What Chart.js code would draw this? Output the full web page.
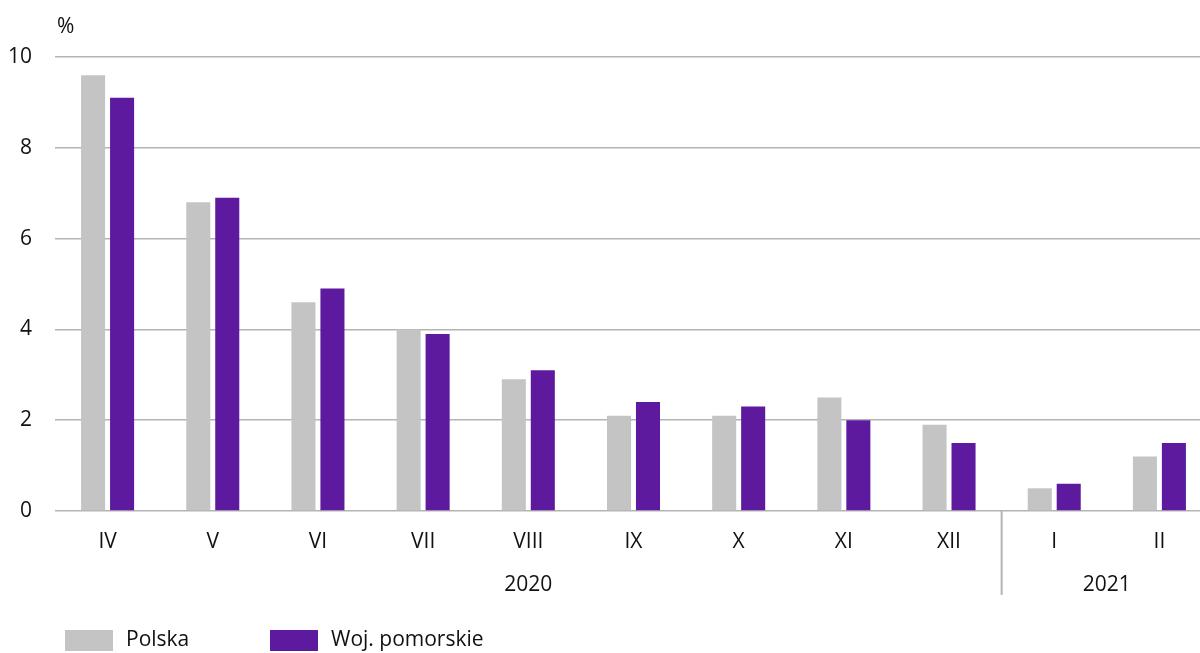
<!DOCTYPE html>
<html>
<head>
<meta charset="utf-8">
<script src="https://cdn.jsdelivr.net/npm/chart.js@4"></script>
<style>
  html, body { margin: 0; padding: 0; background: #fff; }
  /* wykres jest nieco szerszy niż okno - prawa krawędź przycięta jak w oryginale */
  #wrap { width: 1200px; height: 653px; overflow: hidden; }
</style>
</head>
<body>
<div id="wrap"><canvas id="chart" width="1212" height="653"></canvas></div>
<script>
// dane
const months = ["IV", "V", "VI", "VII", "VIII", "IX", "X", "XI", "XII", "I", "II"];
const years = [
  { label: "2020", from: 0, to: 8 },
  { label: "2021", from: 9, to: 10 }
];
const polska = [9.6, 6.8, 4.6, 4.0, 2.9, 2.1, 2.1, 2.5, 1.9, 0.5, 1.2];
const pomorskie = [9.1, 6.9, 4.9, 3.9, 3.1, 2.4, 2.3, 2.0, 1.5, 0.6, 1.5];
const seriesNames = ["Polska", "Woj. pomorskie"];
const seriesColors = ["#c3c4c3", "#5e1a9f"];

const FONT = "'Open Sans', 'Noto Sans', sans-serif";
const textColor = "#111";
const gridColor = "#b4b4b4";

// lata pod osią X + pionowa kreska oddzielająca
const yearsPlugin = {
  id: "years",
  afterDraw(chart) {
    const ctx = chart.ctx;
    const x = chart.scales.x;
    const bottom = chart.chartArea.bottom;
    ctx.save();
    ctx.font = "21px " + FONT;
    ctx.fillStyle = textColor;
    ctx.textAlign = "center";
    ctx.textBaseline = "middle";
    years.forEach(y => {
      const cx = (x.getPixelForValue(y.from) + x.getPixelForValue(y.to)) / 2;
      ctx.fillText(y.label, cx, bottom + 74);
    });
    // separator
    for (let i = 1; i < years.length; i++) {
      const sx = (x.getPixelForValue(years[i].from - 1) + x.getPixelForValue(years[i].from)) / 2;
      ctx.strokeStyle = gridColor;
      ctx.lineWidth = 2;
      ctx.beginPath();
      ctx.moveTo(sx, bottom);
      ctx.lineTo(sx, bottom + 84);
      ctx.stroke();
    }
    // jednostka
    ctx.textAlign = "left";
    ctx.fillText("%", 57, 27);
    ctx.restore();
  }
};

// legenda na dole
const legendPlugin = {
  id: "bottomLegend",
  afterDraw(chart) {
    const ctx = chart.ctx;
    const starts = [65, 270];
    ctx.save();
    ctx.font = "21px " + FONT;
    ctx.textBaseline = "middle";
    ctx.textAlign = "left";
    chart.data.datasets.forEach((ds, i) => {
      ctx.fillStyle = ds.backgroundColor;
      ctx.fillRect(starts[i], 630, 48, 21);
      ctx.fillStyle = textColor;
      ctx.fillText(ds.label, starts[i] + 61, 640);
    });
    ctx.restore();
  }
};

const ctx = document.getElementById("chart").getContext("2d");
new Chart(ctx, {
  type: "bar",
  data: {
    labels: months,
    datasets: [
      { label: seriesNames[0], data: polska, backgroundColor: seriesColors[0] },
      { label: seriesNames[1], data: pomorskie, backgroundColor: seriesColors[1] }
    ]
  },
  options: {
    responsive: false,
    animation: false,
    layout: { padding: { top: 57, right: 0, left: 0, bottom: 0 } },
    datasets: {
      bar: { categoryPercentage: 0.551, barPercentage: 0.83 }
    },
    plugins: {
      legend: { display: false },
      tooltip: { enabled: false }
    },
    scales: {
      x: {
        grid: { display: false, drawTicks: false },
        border: { display: false },
        ticks: {
          color: textColor,
          font: { family: FONT, size: 21 },
          padding: 18,
          maxRotation: 0
        },
        afterFit(scale) { scale.height = 142; }
      },
      y: {
        min: 0,
        max: 10,
        ticks: {
          stepSize: 2,
          color: textColor,
          font: { family: FONT, size: 21 },
          padding: 23
        },
        grid: { color: gridColor, lineWidth: 1.5, drawTicks: false },
        border: { display: false },
        afterFit(scale) { scale.width = 55; }
      }
    }
  },
  plugins: [yearsPlugin, legendPlugin]
});
</script>
</body>
</html>
